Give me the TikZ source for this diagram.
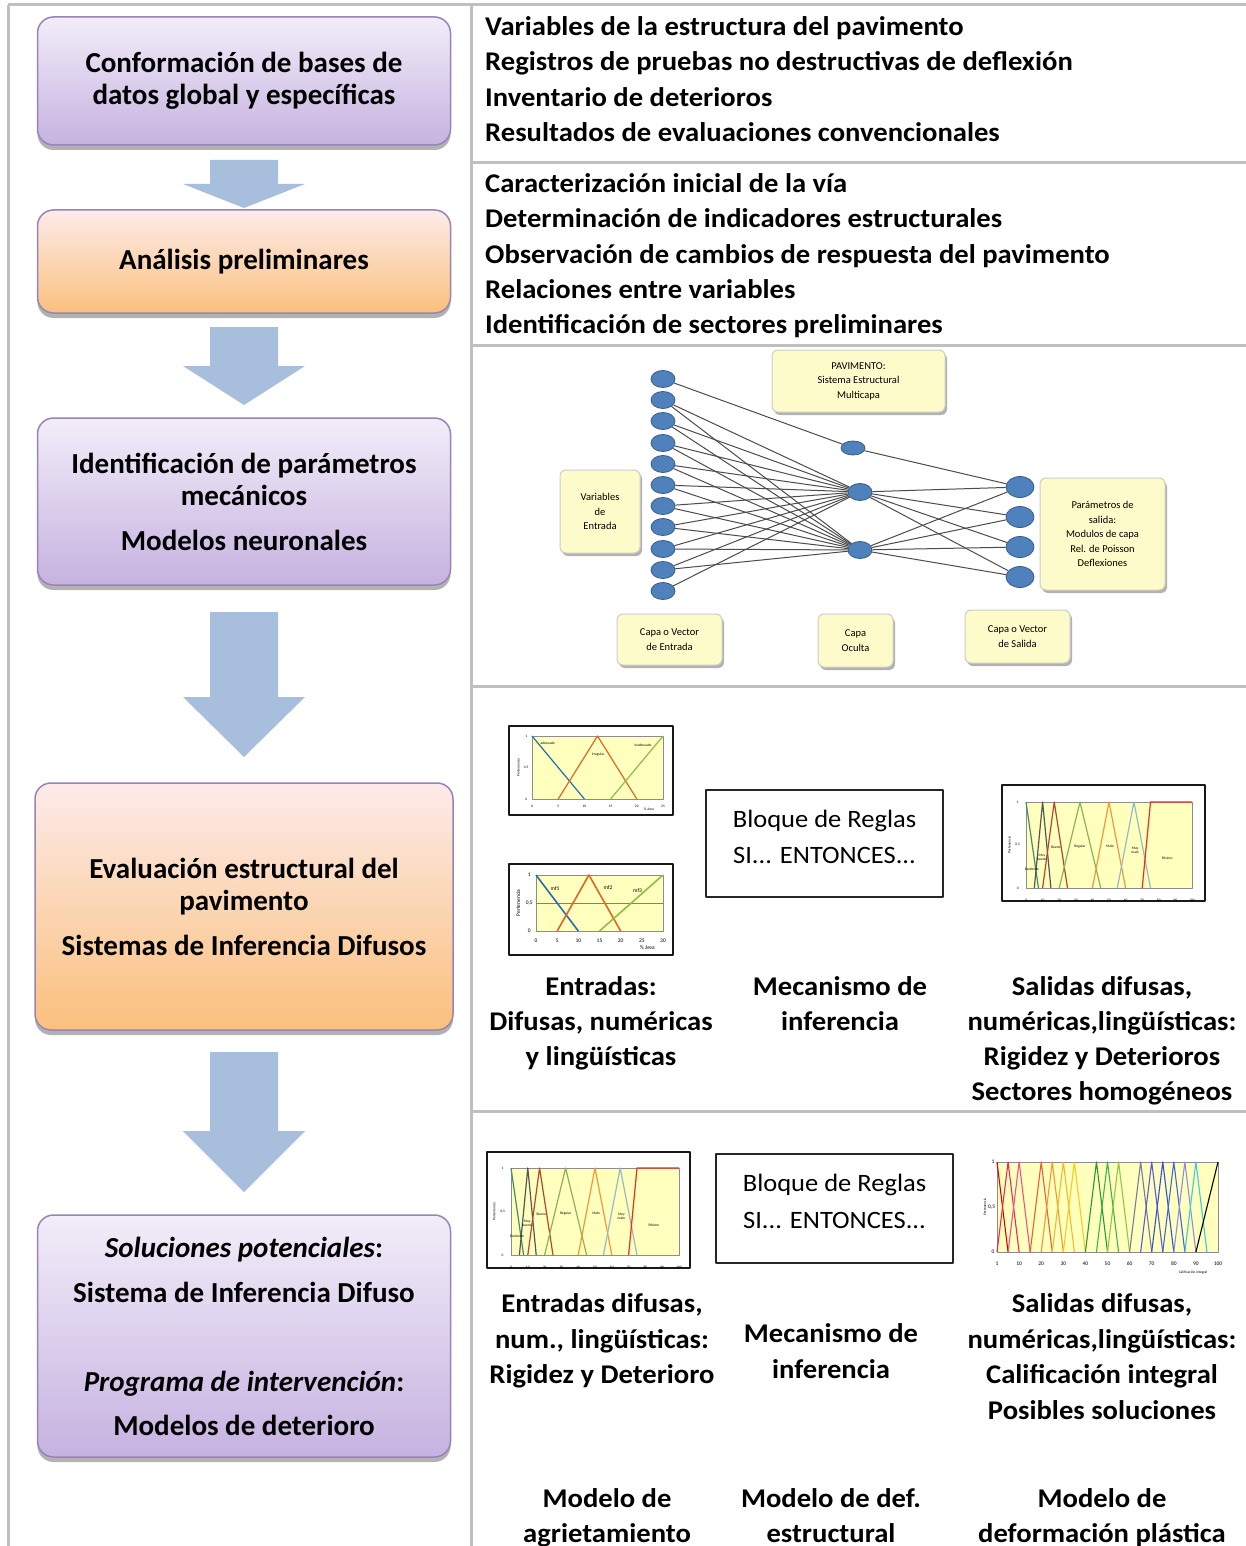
\documentclass[tikz,border=0pt]{standalone}
\usepackage{fontspec}
\setmainfont{Carlito}
\usetikzlibrary{shapes.geometric,shadows}
\pgfdeclarelayer{paper}
\pgfdeclarelayer{links}
\pgfsetlayers{paper,links,main}

\definecolor{framegray}{RGB}{191,191,191}
\definecolor{lilactop}{RGB}{242,237,249}
\definecolor{lilacbot}{RGB}{198,178,224}
\definecolor{peachtop}{RGB}{253,235,234}
\definecolor{peachbot}{RGB}{250,192,124}
\definecolor{stageedge}{RGB}{152,132,182}
\definecolor{arrowblue}{RGB}{168,190,221}
\definecolor{neuronfill}{RGB}{79,129,189}
\definecolor{neuronedge}{RGB}{56,93,138}
\definecolor{noteyellow}{RGB}{253,251,202}
\definecolor{noteedge}{RGB}{205,205,200}
\definecolor{plotyellow}{RGB}{255,255,190}
\definecolor{mfblue}{RGB}{40,110,175}
\definecolor{mforange}{RGB}{228,100,40}
\definecolor{mfgreen}{RGB}{140,190,70}
\definecolor{sevA}{RGB}{70,140,110}
\definecolor{sevB}{RGB}{85,85,90}
\definecolor{sevC}{RGB}{180,70,45}
\definecolor{sevD}{RGB}{140,178,85}
\definecolor{sevE}{RGB}{245,150,60}
\definecolor{sevF}{RGB}{150,185,200}
\definecolor{sevG}{RGB}{240,45,30}

\newcommand\dgstage{\bfseries\fontsize{29}{32}\selectfont}
\newcommand\dglist{\bfseries\fontsize{27}{30}\selectfont}
\newcommand\dgcap{\bfseries\fontsize{27}{30}\selectfont}
\newcommand\dgrule{\fontsize{25}{28}\selectfont}
\newcommand\dgnote{\fontsize{10.5}{14.5}\selectfont}
\newcommand\dgmicro{\fontsize{3.6}{4}\selectfont}
\newcommand\dgsmall{\fontsize{5.5}{6}\selectfont}
% slightly widened lettering of the right-hand column
\newcommand\dgwide[1]{\scalebox{1.06}[1]{#1}}

% block arrow pointing down: shaft top, head base, tip
\newcommand\dgarrow[3]{\fill[arrowblue] (210,#1) -- (278,#1) -- (278,#2) -- (305,#2) -- (244,#3) -- (183,#2) -- (210,#2) -- cycle;}

% membership functions of the seven condition classes (plot units 0..100 x 0..1)
\newcommand\dgseverity{%
  \draw[sevA] (0,1) -- (7.5,0);
  \draw[sevB] (5,0) -- (10,1) -- (15,0);
  \draw[sevC] (10,0) -- (17,1) -- (25,0);
  \draw[sevD] (20,0) -- (32.5,1) -- (45,0);
  \draw[sevE] (40,0) -- (50,1) -- (60,0);
  \draw[sevF] (55,0) -- (65,1) -- (75,0);
  \draw[sevG] (70,0) -- (75,1) -- (100,1);
  \node[micro] (e1) at (3.5,0.22) {Excelente};
  \node[micro] (e2) at (9.6,0.36) {Muy\\bueno};
  \node[micro] (e3) at (18,0.47) {Bueno};
  \node[micro] (e4) at (32.5,0.48) {Regular};
  \node[micro] (e5) at (50.6,0.48) {Malo};
  \node[micro] (e6) at (65.7,0.44) {Muy\\malo};
  \node[micro] (e7) at (85,0.34) {Pésimo};
  \foreach \t [count=\k] in {0,10,...,100} \node[micro] (tx\k) at (\t,-0.14) {\t};
  \node[micro] (ty1) at (-5,1) {1};
  \node[micro] (ty2) at (-5,0.5) {0,5};
  \node[micro] (ty3) at (-5,0) {0};
  \node[micro, rotate=90] (tyl) at (-10,0.5) {Pertenencia};
}

\begin{document}
\begin{tikzpicture}[x=1pt, y=-1pt,
  frameline/.style={draw=framegray, line width=3pt},
  stage/.style={draw=stageedge, line width=1.5pt, rounded corners=16pt,
    minimum width=413pt, align=center, font=\dgstage, inner sep=0pt,
    drop shadow={shadow xshift=0pt, shadow yshift=-5pt, opacity=0.3, fill=black}},
  lilac/.style={stage, top color=lilactop, bottom color=lilacbot},
  peach/.style={stage, top color=peachtop, bottom color=peachbot},
  listtext/.style={anchor=base west, font=\dglist, inner sep=0pt},
  caption/.style={anchor=base, font=\dgcap, inner sep=0pt},
  ruletext/.style={anchor=base, font=\dgrule, inner sep=0pt},
  rulebox/.style={draw=black!85, line width=2pt, fill=white},
  neuron/.style={ellipse, fill=neuronfill, draw=neuronedge, line width=0.8pt,
    inner sep=0pt, minimum width=24pt, minimum height=17pt},
  note/.style={rounded corners=6pt, fill=noteyellow, draw=noteedge, line width=1pt,
    align=center, font=\dgnote, inner sep=1pt,
    drop shadow={shadow xshift=2pt, shadow yshift=-3pt, opacity=0.3, fill=black}},
  link/.style={draw=black!70, line width=1pt},
  chartframe/.style={draw=black!90, line width=2.5pt, fill=white},
  plotedge/.style={draw=black!45, line width=0.5pt},
  micro/.style={font=\dgmicro, inner sep=0pt, align=center},
  small/.style={font=\dgsmall, inner sep=0pt, align=center},
  every path/.append style={line join=round}
]
\useasboundingbox (0,0) rectangle (1246,1546);
\begin{pgfonlayer}{paper}
  \fill[white] (0,0) rectangle (1246,1546);
\end{pgfonlayer}

% ---------- table rules ----------
\draw[frameline] (8,5) -- (1246,5);
\draw[frameline] (8,5) -- (8,1546);
\draw[frameline] (471,5) -- (471,1546);
\draw[frameline] (471,163) -- (1246,163);
\draw[frameline] (471,345) -- (1246,345);
\draw[frameline] (471,686) -- (1246,686);
\draw[frameline] (471,1111) -- (1246,1111);

% ---------- process stages ----------
\node[lilac, minimum height=128pt] (s1) at (244,81)
  {Conformación de bases de\\datos global y específicas};
\node[peach, minimum height=103pt] (s2) at (244,261.5) {Análisis preliminares};
\node[lilac, minimum height=167pt] (s3) at (244,501.5)
  {Identificación de parámetros\\mecánicos\\[13pt]Modelos neuronales};
\node[peach, minimum width=418pt, minimum height=247pt] (s4) at (244,906.5)
  {Evaluación estructural del\\pavimento\\[13pt]Sistemas de Inferencia Difusos};
\node[lilac, minimum height=242pt] (s5) at (244,1336)
  {\textit{Soluciones potenciales}:\\[13pt]Sistema de Inferencia Difuso\\[57pt]\textit{Programa de intervención}:\\[12pt]Modelos de deterioro};

\dgarrow{160}{184}{208}
\dgarrow{327}{366}{405}
\dgarrow{612}{697}{757}
\dgarrow{1052}{1131}{1192}

% ---------- data sources ----------
\node[listtext] (d1) at (485,36)  {\dgwide{Variables de la estructura del pavimento}};
\node[listtext] (d2) at (485,71)  {\dgwide{Registros de pruebas no destructivas de deflexión}};
\node[listtext] (d3) at (485,107) {\dgwide{Inventario de deterioros}};
\node[listtext] (d4) at (485,142) {\dgwide{Resultados de evaluaciones convencionales}};

\node[listtext] (p1) at (485,193) {\dgwide{Caracterización inicial de la vía}};
\node[listtext] (p2) at (485,228) {\dgwide{Determinación de indicadores estructurales}};
\node[listtext] (p3) at (485,263) {\dgwide{Observación de cambios de respuesta del pavimento}};
\node[listtext] (p4) at (485,298) {\dgwide{Relaciones entre variables}};
\node[listtext] (p5) at (485,333) {\dgwide{Identificación de sectores preliminares}};

% ---------- neural network ----------
\foreach \y [count=\k] in {379,400,421,443,464,485,506,527,549,570,591}
  \node[neuron] (in\k) at (663,\y) {};
\node[neuron, minimum height=14pt] (h1) at (853,448) {};
\node[neuron] (h2) at (860,492) {};
\node[neuron] (h3) at (860,550) {};
\foreach \y [count=\k] in {487,517,547,577}
  \node[neuron, minimum width=28pt, minimum height=21pt] (out\k) at (1020,\y) {};

\begin{pgfonlayer}{links}
  \draw[link] (in1) -- (h1);
  \draw[link] (h1) -- (out1);
  \foreach \k in {2,...,10} {
    \draw[link] (in\k) -- (h2);
    \draw[link] (in\k) -- (h3);
  }
  \draw[link] (in11) -- (h2);
  \foreach \k in {1,...,4} {
    \draw[link] (h2) -- (out\k);
    \draw[link] (h3) -- (out\k);
  }
\end{pgfonlayer}

\node[note, minimum width=173pt, minimum height=62pt] (pav) at (858.5,381)
  {PAVIMENTO:\\Sistema Estructural\\Multicapa};
\node[note, minimum width=80pt, minimum height=83pt] (vin) at (600,511.5)
  {Variables\\de\\Entrada};
\node[note, minimum width=125pt, minimum height=112pt] (pout) at (1102.5,534)
  {Parámetros de\\salida:\\Modulos de capa\\Rel. de Poisson\\Deflexiones};
\node[note, minimum width=105pt, minimum height=51pt] (cin) at (669.5,639.5)
  {Capa o Vector\\de Entrada};
\node[note, minimum width=75pt, minimum height=53pt] (chid) at (855.5,640.5)
  {Capa\\Oculta};
\node[note, minimum width=105pt, minimum height=53pt] (cout) at (1017.5,636.5)
  {Capa o Vector\\de Salida};

% ---------- fuzzy inference: structural evaluation ----------
% input membership functions (upper)
\draw[chartframe] (509,726) rectangle (673,815);
\begin{scope}[shift={(532,799)}, x=5.24pt, y=63pt]
  \fill[plotyellow] (0,0) rectangle (25,1);
  \draw[plotedge] (0,0) rectangle (25,1);
  \draw[mfblue, line width=1.2pt] (0,1) -- (10,0);
  \draw[mforange, line width=1.2pt] (5,0) -- (12.5,1) -- (20,0);
  \draw[mfgreen, line width=1.2pt] (15,0) -- (25,1);
  \foreach \t [count=\k] in {0,5,...,25} \node[micro] (ua\k) at (\t,-0.12) {\t};
  \node[micro] (ub1) at (-1.1,1) {1};
  \node[micro] (ub2) at (-1.1,0.5) {0,5};
  \node[micro] (ub3) at (-1.1,0) {0};
  \node[micro, rotate=90] (ub4) at (-2.6,0.5) {Pertenencia};
  \node[micro] (ub5) at (22.3,-0.16) {\% área};
  \node[micro] (uc1) at (3,0.88) {adecuado};
  \node[micro] (uc2) at (12.6,0.7) {irregular};
  \node[micro] (uc3) at (21.2,0.85) {inadecuado};
\end{scope}

% input membership functions (lower)
\draw[chartframe] (509,864) rectangle (673,955);
\begin{scope}[shift={(536,931)}, x=4.233pt, y=56pt]
  \fill[plotyellow] (0,0) rectangle (30,1);
  \draw[plotedge] (0,0) rectangle (30,1);
  \draw[black!50, line width=0.6pt] (0,0.5) -- (30,0.5);
  \draw[mfblue, line width=1.6pt] (0,1) -- (10,0);
  \draw[mforange, line width=1.6pt] (5,0) -- (12.5,1) -- (20,0);
  \draw[mfgreen, line width=1.6pt] (15,0) -- (30,1);
  \foreach \t [count=\k] in {0,5,...,30} \node[small] (la\k) at (\t,-0.17) {\t};
  \node[small] (lb1) at (-1.6,1) {1};
  \node[small] (lb2) at (-1.6,0.5) {0,5};
  \node[small] (lb3) at (-1.6,0) {0};
  \node[small, rotate=90] (lb4) at (-4.2,0.5) {Pertenencia};
  \node[small] (lb5) at (26.3,-0.29) {\% área};
  \node[small] (lc1) at (4.5,0.75) {mf1};
  \node[small] (lc2) at (17,0.77) {mf2};
  \node[small] (lc3) at (24,0.72) {mf3};
\end{scope}

% rule block
\node[rulebox, minimum width=237pt, minimum height=107pt] (rb1) at (824.5,843.5) {};
\node[ruletext] (rb1a) at (824.5,827) {\dgwide{Bloque de Reglas}};
\node[ruletext] (rb1b) at (824.5,863) {\dgwide{SI... ENTONCES...}};

% output membership functions
\draw[chartframe] (1002,785) rectangle (1205,901);
\begin{scope}[shift={(1026,888)}, x=1.66pt, y=86pt]
  \fill[plotyellow] (0,0) rectangle (100,1);
  \draw[plotedge] (0,0) rectangle (100,1);
  \begin{scope}[line width=1.2pt]\dgseverity\end{scope}
\end{scope}

\foreach \t/\y [count=\k] in {Entradas:/995, {Difusas, numéricas}/1030, y lingüísticas/1065}
  \node[caption] (ea\k) at (601,\y) {\dgwide{\t}};
\foreach \t/\y [count=\k] in {Mecanismo de/995, inferencia/1030}
  \node[caption] (ma\k) at (840,\y) {\dgwide{\t}};
\foreach \t/\y [count=\k] in {{Salidas difusas,}/995, {numéricas,lingüísticas:}/1030, Rigidez y Deterioros/1065, Sectores homogéneos/1100}
  \node[caption] (sa\k) at (1102,\y) {\dgwide{\t}};

% ---------- fuzzy inference: potential solutions ----------
\draw[chartframe] (487,1152) rectangle (690,1268);
\begin{scope}[shift={(511,1255)}, x=1.68pt, y=87pt]
  \fill[plotyellow] (0,0) rectangle (100,1);
  \draw[plotedge] (0,0) rectangle (100,1);
  \begin{scope}[line width=1.2pt]\dgseverity\end{scope}
\end{scope}

\node[rulebox, minimum width=237pt, minimum height=109pt] (rb2) at (834.5,1208.5) {};
\node[ruletext] (rb2a) at (834.5,1191) {\dgwide{Bloque de Reglas}};
\node[ruletext] (rb2b) at (834.5,1228) {\dgwide{SI... ENTONCES...}};

% integral rating membership functions
\begin{scope}[shift={(997,1252)}, x=2.21pt, y=90pt]
  \fill[plotyellow] (0,0) rectangle (100,1);
  \draw[plotedge] (0,0) rectangle (100,1);
  \begin{scope}[line width=1.1pt]
    \draw[red!85!black] (0,1) -- (5,0);
    \foreach \p/\c in {5/{rgb,255:red,230;green,40;blue,90},
                       10/{rgb,255:red,240;green,80;blue,140},
                       20/{rgb,255:red,232;green,95;blue,50},
                       25/{rgb,255:red,245;green,150;blue,60},
                       30/{rgb,255:red,240;green,185;blue,45},
                       35/{rgb,255:red,240;green,205;blue,30},
                       45/{rgb,255:red,40;green,150;blue,55},
                       50/{rgb,255:red,60;green,180;blue,75},
                       55/{rgb,255:red,140;green,200;blue,70},
                       65/{rgb,255:red,120;green,120;blue,160},
                       70/{rgb,255:red,90;green,90;blue,210},
                       75/{rgb,255:red,50;green,80;blue,215},
                       80/{rgb,255:red,65;green,100;blue,225},
                       85/{rgb,255:red,140;green,140;blue,232},
                       90/{rgb,255:red,60;green,200;blue,225}}
      \draw[color=\c] ({\p-5},0) -- (\p,1) -- ({\p+5},0);
    \draw[black] (90,0) -- (100,1);
  \end{scope}
  \foreach \t/\v [count=\k] in {1/0,10/10,20/20,30/30,40/40,50/50,60/60,70/70,80/80,90/90,100/100}
    \node[small] (ra\k) at (\v,-0.13) {\t};
  \node[small] (rb1l) at (-1.8,1) {1};
  \node[small] (rb2l) at (-2.4,0.5) {0,5};
  \node[small] (rb3l) at (-1.8,0) {0};
  \node[micro, rotate=90] (rb4l) at (-5.5,0.5) {Pertenencia};
  \node[micro] (rb5l) at (88.7,-0.23) {Calificación integral};
\end{scope}

\foreach \t/\y [count=\k] in {{Entradas difusas,}/1312, {num., lingüísticas:}/1348, Rigidez y Deterioro/1383}
  \node[caption] (eb\k) at (602,\y) {\dgwide{\t}};
\foreach \t/\y [count=\k] in {Mecanismo de/1342, inferencia/1378}
  \node[caption] (mb\k) at (831,\y) {\dgwide{\t}};
\foreach \t/\y [count=\k] in {{Salidas difusas,}/1312, {numéricas,lingüísticas:}/1348, Calificación integral/1383, Posibles soluciones/1419}
  \node[caption] (sb\k) at (1102,\y) {\dgwide{\t}};

% ---------- deterioration models ----------
\node[caption] (m1a) at (607,1507) {\dgwide{Modelo de}};
\node[caption] (m1b) at (607,1542) {\dgwide{agrietamiento}};
\node[caption] (m2a) at (831,1507) {\dgwide{Modelo de def.}};
\node[caption] (m2b) at (831,1542) {\dgwide{estructural}};
\node[caption] (m3a) at (1102,1507) {\dgwide{Modelo de}};
\node[caption] (m3b) at (1102,1542) {\dgwide{deformación plástica}};
\end{tikzpicture}
\end{document}
